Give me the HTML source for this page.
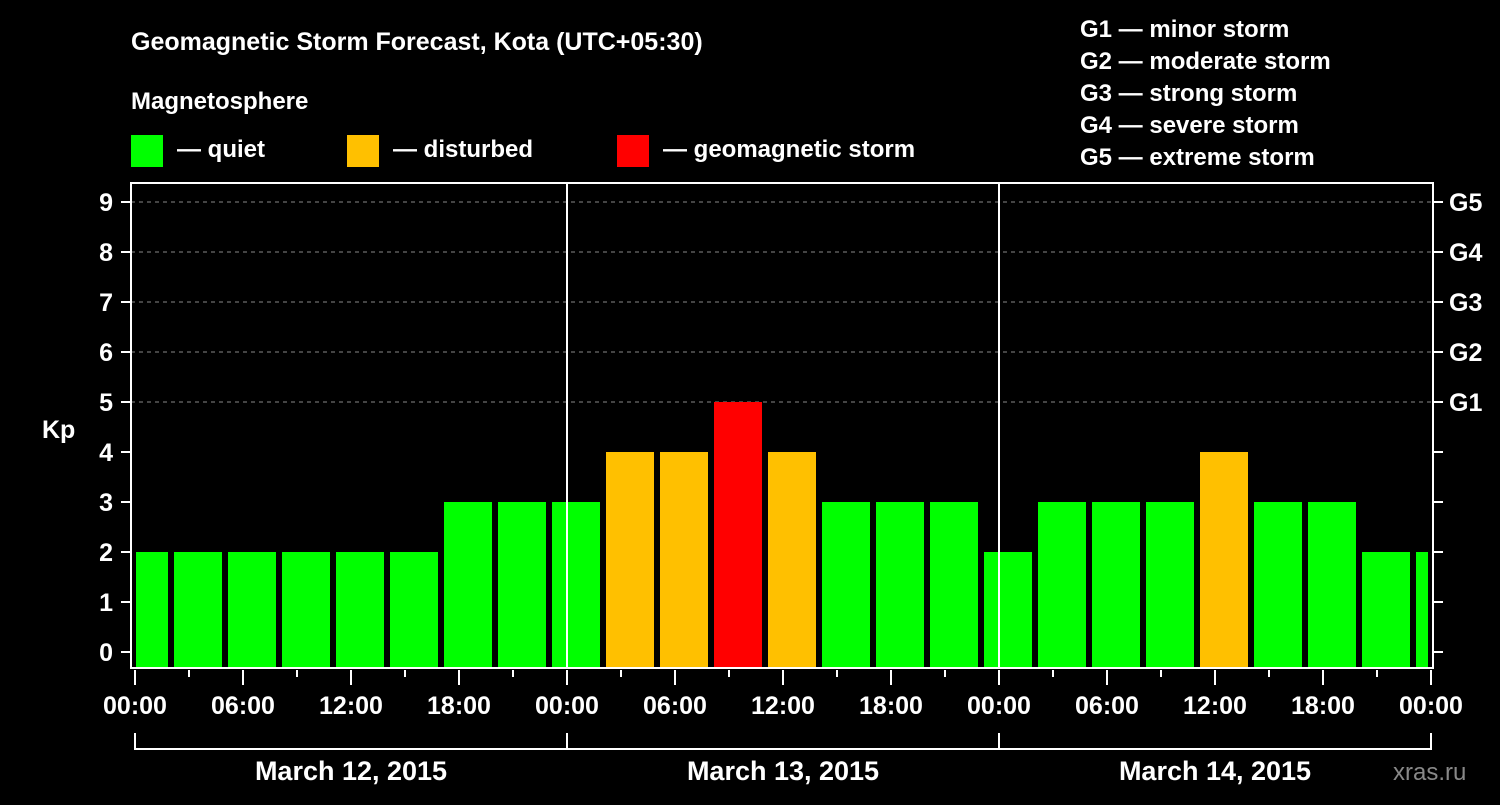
<!DOCTYPE html>
<html><head><meta charset="utf-8"><style>
body{margin:0;background:#000;width:1500px;height:800px;overflow:hidden}
svg text{font-family:"Liberation Sans",Arial,sans-serif;font-weight:bold;fill:#fff}
</style></head><body>
<svg id="chart" width="1500" height="800" xmlns="http://www.w3.org/2000/svg">
<text x="131" y="50" font-size="25">Geomagnetic Storm Forecast, Kota (UTC+05:30)</text>
<text x="131" y="109" font-size="24">Magnetosphere</text>
<g><rect x="131" y="135" width="32" height="32" fill="#00ff00"/><text x="177" y="157" font-size="24">— quiet</text></g>
<g><rect x="347" y="135" width="32" height="32" fill="#ffc000"/><text x="393" y="157" font-size="24">— disturbed</text></g>
<g><rect x="617" y="135" width="32" height="32" fill="#ff0000"/><text x="663" y="157" font-size="24">— geomagnetic storm</text></g>
<g font-size="24">
<text x="1080" y="37">G1 — minor storm</text>
<text x="1080" y="69">G2 — moderate storm</text>
<text x="1080" y="101">G3 — strong storm</text>
<text x="1080" y="133">G4 — severe storm</text>
<text x="1080" y="165">G5 — extreme storm</text>
</g>
<text x="42" y="438" font-size="25">Kp</text>
<text x="1393" y="780" font-size="24" style="font-weight:normal;fill:#888">xras.ru</text>
<g id="grid"></g><g id="bars"></g><g id="axes"></g>
</svg>
<script>
const kpValues=[2,2,2,2,2,2,3,3,3,4,4,5,4,3,3,3,2,3,3,3,4,3,3,2,2];
const kpTicks=[0,1,2,3,4,5,6,7,8,9];
const gLabels=["G1","G2","G3","G4","G5"];
const hourLabels=["00:00","06:00","12:00","18:00"];
const dayLabels=["March 12, 2015","March 13, 2015","March 14, 2015"];
const firstBarHour=-1; // bar start offset in hours from 00:00 (UTC+5:30 shift)
const NS="http://www.w3.org/2000/svg";
const L=131,R=1433,T=183,B=668,X0=135,PXH=18;
const y=v=>652-v*50;
const x=h=>X0+h*PXH;
function mk(tag,attrs,parent){const e=document.createElementNS(NS,tag);for(const k in attrs)e.setAttribute(k,attrs[k]);document.getElementById(parent).appendChild(e);return e;}
function color(v){return v>=5?"#ff0000":v>=4?"#ffc000":"#00ff00";}
// grid
kpTicks.forEach(v=>{if(v>=5){const l=mk("line",{x1:L,x2:R,y1:y(v),y2:y(v),stroke:"#888","stroke-dasharray":"4,4"},"grid");

}});
// bars
kpValues.forEach((v,i)=>{let x1=x(firstBarHour+3*i)+3,x2=x(firstBarHour+3*i+3)-3;x1=Math.max(x1,L+5);x2=Math.min(x2,R-5);
const r=mk("rect",{x:x1,y:y(v),width:x2-x1,height:B-y(v),fill:color(v)},"bars");

});
// frame
const f=mk("rect",{x:L,y:T,width:R-L,height:B-T,fill:"none",stroke:"#fff","stroke-width":2},"axes");


[1,2].forEach(d=>{const l=mk("line",{x1:x(24*d),x2:x(24*d),y1:T,y2:B,stroke:"#fff","stroke-width":2},"axes");

});
kpTicks.forEach(v=>{mk("line",{x1:L-10,x2:L,y1:y(v),y2:y(v),stroke:"#fff","stroke-width":2},"axes");
mk("line",{x1:R,x2:R+10,y1:y(v),y2:y(v),stroke:"#fff","stroke-width":2},"axes");
const t=mk("text",{x:113,y:y(v)+9,"font-size":25,"text-anchor":"end"},"axes");t.textContent=v;

});
gLabels.forEach((g,i)=>{const t=mk("text",{x:1449,y:y(5+i)+9,"font-size":25},"axes");t.textContent=g;

});
for(let h=0;h<=72;h+=3){const major=h%6===0;mk("line",{x1:x(h),x2:x(h),y1:B+2,y2:B+(major?17:9),stroke:"#fff","stroke-width":2},"axes");
if(major){const t=mk("text",{x:x(h),y:714,"font-size":25,"text-anchor":"middle"},"axes");t.textContent=hourLabels[(h/6)%4];

}}
dayLabels.forEach((d,i)=>{const a=x(24*i),b=x(24*i+24);
mk("path",{d:`M${a},733V749H${b}V733`,stroke:"#fff","stroke-width":2,fill:"none"},"axes");
const t=mk("text",{x:(a+b)/2,y:780,"font-size":27,"text-anchor":"middle"},"axes");t.textContent=d;

});
</script>
</body></html>
